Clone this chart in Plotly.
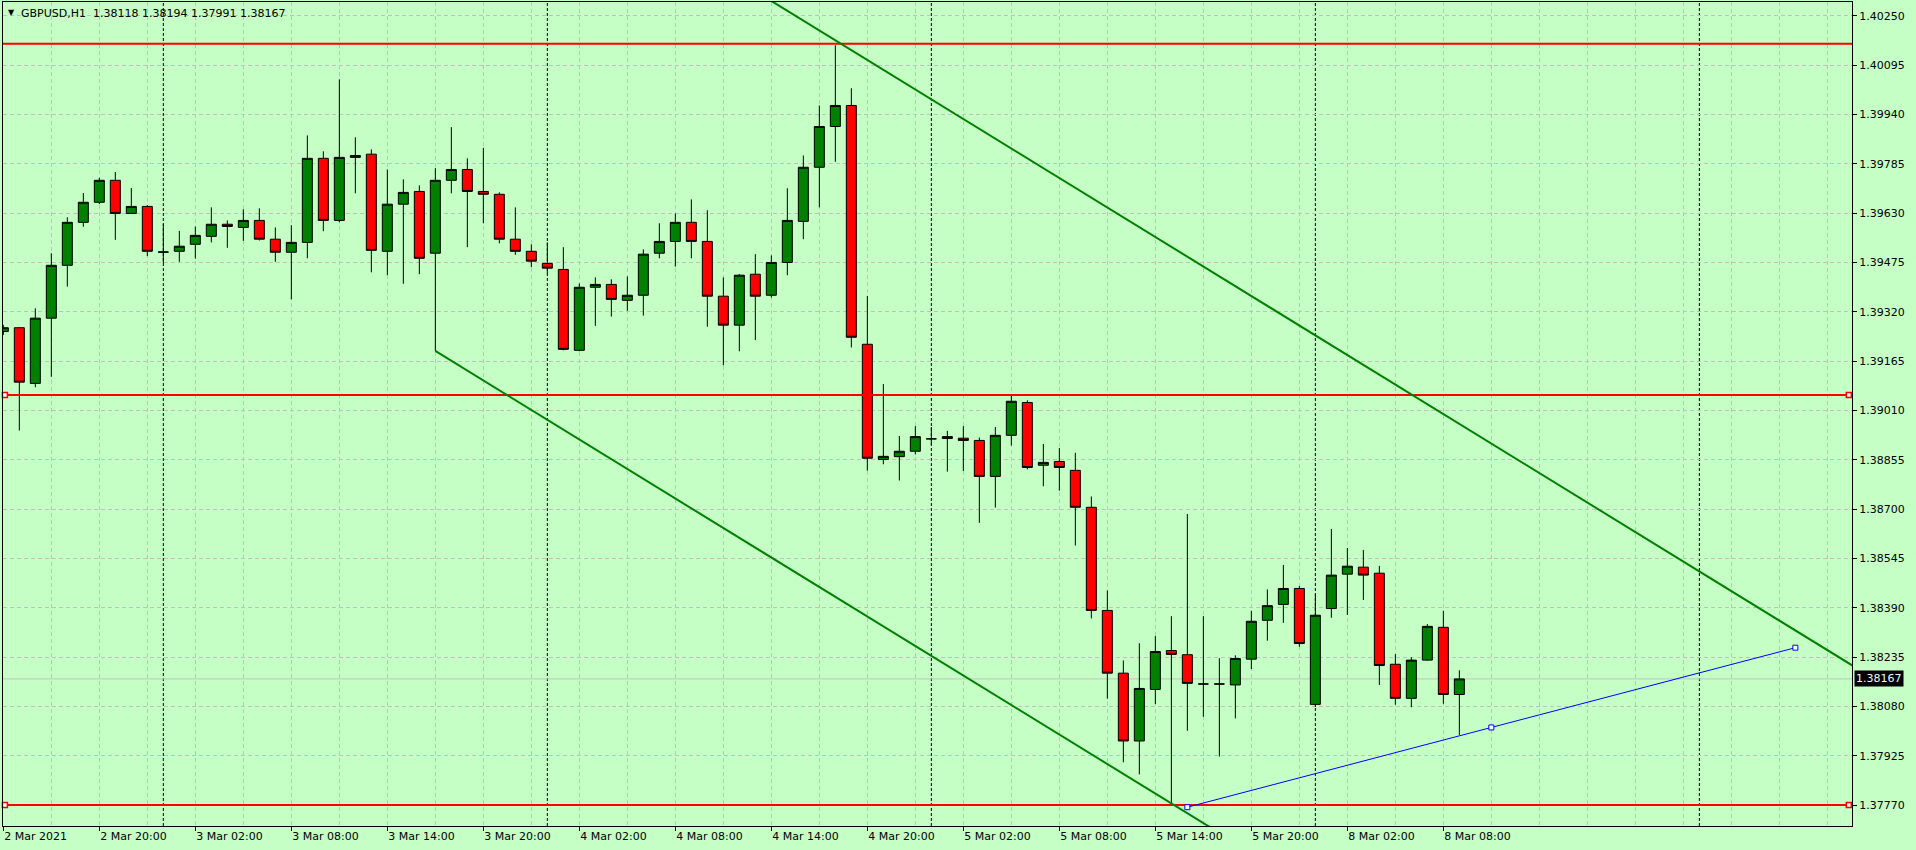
import plotly.graph_objects as go
import pandas as pd

# ---------------- data ----------------
symbol = "GBPUSD,H1"
times = list(pd.date_range("2021-03-02 14:00", "2021-03-05 23:00", freq="h")) + \
        list(pd.date_range("2021-03-08 00:00", "2021-03-08 09:00", freq="h"))

opens = [1.39258, 1.39270, 1.39095, 1.39300, 1.39466, 1.39601, 1.39664, 1.39733, 1.39629, 1.39651,
         1.39507, 1.39510, 1.39532, 1.39557, 1.39595, 1.39585, 1.39607, 1.39548, 1.39507, 1.39538,
         1.39802, 1.39607, 1.39805, 1.39815, 1.39510, 1.39658, 1.39698, 1.39504, 1.39733, 1.39767,
         1.39698, 1.39689, 1.39548, 1.39510, 1.39472, 1.39453, 1.39199, 1.39397, 1.39406, 1.39356,
         1.39372, 1.39504, 1.39541, 1.39601, 1.39541, 1.39369, 1.39278, 1.39438, 1.39372, 1.39475,
         1.39604, 1.39774, 1.39902, 1.39968, 1.39218, 1.38856, 1.38865, 1.38882, 1.38921, 1.38928,
         1.38923, 1.38916, 1.38803, 1.38932, 1.39035, 1.38838, 1.38850, 1.38822, 1.38706, 1.38382,
         1.38185, 1.37972, 1.38134, 1.38256, 1.38243, 1.38151, 1.38151, 1.38148, 1.38229, 1.38351,
         1.38401, 1.38451, 1.38087, 1.38388, 1.38496, 1.38518, 1.38499, 1.38213, 1.38106, 1.38226,
         1.38329, 1.38118]
highs = [1.39279, 1.39272, 1.39331, 1.39504, 1.39617, 1.39693, 1.39741, 1.39759, 1.39709, 1.39655,
         1.39596, 1.39574, 1.39588, 1.39648, 1.39607, 1.39642, 1.39645, 1.39585, 1.39592, 1.39874,
         1.39824, 1.40050, 1.39868, 1.39830, 1.39767, 1.39736, 1.39717, 1.39771, 1.39900, 1.39802,
         1.39835, 1.39695, 1.39648, 1.39532, 1.39538, 1.39523, 1.39409, 1.39428, 1.39422, 1.39431,
         1.39516, 1.39598, 1.39629, 1.39673, 1.39639, 1.39428, 1.39438, 1.39501, 1.39497, 1.39708,
         1.39811, 1.39968, 1.40157, 1.40022, 1.39370, 1.39093, 1.38930, 1.38961, 1.38958, 1.38946,
         1.38961, 1.38925, 1.38958, 1.39057, 1.39042, 1.38905, 1.38892, 1.38877, 1.38740, 1.38445,
         1.38225, 1.38279, 1.38302, 1.38364, 1.38685, 1.38364, 1.38232, 1.38241, 1.38381, 1.38448,
         1.38525, 1.38459, 1.38434, 1.38638, 1.38578, 1.38572, 1.38522, 1.38245, 1.38235, 1.38339,
         1.38381, 1.38194]
lows = [1.39247, 1.38947, 1.39083, 1.39116, 1.39399, 1.39587, 1.39658, 1.39546, 1.39627, 1.39495,
        1.39473, 1.39477, 1.39487, 1.39538, 1.39521, 1.39543, 1.39544, 1.39477, 1.39359, 1.39488,
        1.39573, 1.39601, 1.39692, 1.39444, 1.39435, 1.39408, 1.39438, 1.39197, 1.39692, 1.39523,
        1.39598, 1.39535, 1.39499, 1.39460, 1.39441, 1.39199, 1.39196, 1.39276, 1.39305, 1.39323,
        1.39308, 1.39488, 1.39462, 1.39488, 1.39273, 1.39152, 1.39196, 1.39231, 1.39365, 1.39435,
        1.39548, 1.39648, 1.39791, 1.39208, 1.38821, 1.38841, 1.38790, 1.38872, 1.38902, 1.38818,
        1.38820, 1.38657, 1.38705, 1.38900, 1.38825, 1.38772, 1.38758, 1.38586, 1.38357, 1.38105,
        1.37905, 1.37867, 1.38088, 1.37770, 1.38004, 1.38048, 1.37923, 1.38043, 1.38198, 1.38287,
        1.38343, 1.38268, 1.38079, 1.38359, 1.38368, 1.38415, 1.38148, 1.38086, 1.38078, 1.38224,
        1.38089, 1.37991]
closes = [1.39270, 1.39099, 1.39300, 1.39466, 1.39601, 1.39664, 1.39733, 1.39629, 1.39651, 1.39510,
          1.39508, 1.39526, 1.39560, 1.39595, 1.39588, 1.39607, 1.39548, 1.39507, 1.39538, 1.39802,
          1.39607, 1.39805, 1.39811, 1.39513, 1.39658, 1.39695, 1.39488, 1.39733, 1.39767, 1.39698,
          1.39689, 1.39548, 1.39510, 1.39479, 1.39457, 1.39202, 1.39397, 1.39406, 1.39359, 1.39372,
          1.39501, 1.39541, 1.39601, 1.39541, 1.39369, 1.39278, 1.39435, 1.39369, 1.39475, 1.39607,
          1.39774, 1.39902, 1.39968, 1.39240, 1.38860, 1.38866, 1.38882, 1.38928, 1.38921, 1.38922,
          1.38916, 1.38803, 1.38932, 1.39039, 1.38831, 1.38847, 1.38831, 1.38706, 1.38382, 1.38185,
          1.37972, 1.38137, 1.38253, 1.38244, 1.38153, 1.38151, 1.38151, 1.38231, 1.38348, 1.38397,
          1.38451, 1.38278, 1.38367, 1.38493, 1.38521, 1.38493, 1.38209, 1.38106, 1.38226, 1.38332,
          1.38118, 1.38167]

price_ticks = [1.40250, 1.40095, 1.39940, 1.39785, 1.39630, 1.39475, 1.39320, 1.39165, 1.39010,
               1.38855, 1.38700, 1.38545, 1.38390, 1.38235, 1.38080, 1.37925, 1.37770]
price_tick_text = ["1.40250", "1.40095", "1.39940", "1.39785", "1.39630", "1.39475", "1.39320",
                   "1.39165", "1.39010", "1.38855", "1.38700", "1.38545", "1.38390", "1.38235",
                   "1.38080", "1.37925", "1.37770"]

hlines = [1.40162, 1.39059, 1.37771]
hline_selected = [False, True, True]
channel_x = [27, 73]
channel_lower = [1.39197, 1.37776]
channel_upper = [1.40945, 1.39524]
blue_x = [74, 112]
blue_y = [1.37764, 1.38265]

# ---------------- geometry / style ----------------
W, H = 1916, 850
ML, MR, MT, MB = 3, 64, 2, 24
X_RANGE = [-0.02, 115.54]
Y_RANGE = [1.37705, 1.40293]
BG = "#C6FFC6"
GRID = "#C0C0C0"
FONT = "DejaVu Sans"

n = len(times)
xs = list(range(n))
months = ["", "Jan", "Feb", "Mar", "Apr", "May", "Jun", "Jul", "Aug", "Sep", "Oct", "Nov", "Dec"]

tick_idx = [i for i, t in enumerate(times) if t.hour % 6 == 2]
tick_txt = []
for i in tick_idx:
    t = times[i]
    if i == 0:
        tick_txt.append(f"{t.day} {months[t.month]} {t.year}")
    else:
        tick_txt.append(f"{t.day} {months[t.month]} {t.hour:02d}:00")

# day separators (including the future one)
future = pd.date_range(times[-1] + pd.Timedelta(hours=1), periods=30, freq="h")
all_times = times + list(future)
sep_idx = [i for i, t in enumerate(all_times) if t.hour == 0 and i > 0 and i < X_RANGE[1]]

fig = go.Figure()

shapes = []
for i in sep_idx:
    shapes.append(dict(type="line", xref="x", yref="paper", x0=i, x1=i, y0=0, y1=1,
                       line=dict(color="black", width=1, dash="3px,2px"), layer="below"))
# current price line
shapes.append(dict(type="line", xref="paper", yref="y", x0=0, x1=1, y0=closes[-1], y1=closes[-1],
                   line=dict(color="#C0C0C0", width=1), layer="below"))

fig.add_trace(go.Candlestick(
    x=xs, open=opens, high=highs, low=lows, close=closes,
    increasing=dict(line=dict(color="black", width=1), fillcolor="#008000"),
    decreasing=dict(line=dict(color="black", width=1), fillcolor="#FF0000"),
    whiskerwidth=0, showlegend=False, hoverinfo="skip"))

# horizontal red lines
for lvl, sel in zip(hlines, hline_selected):
    fig.add_trace(go.Scatter(x=[X_RANGE[0], X_RANGE[1]], y=[lvl, lvl], mode="lines",
                             line=dict(color="#FF0000", width=2), showlegend=False, hoverinfo="skip"))
    if sel:
        fig.add_trace(go.Scatter(x=[X_RANGE[0] + 0.12, X_RANGE[1] - 0.2], y=[lvl, lvl], mode="markers",
                                 marker=dict(symbol="square", size=5, color="white",
                                             line=dict(color="#FF0000", width=1.5)),
                                 cliponaxis=False, showlegend=False, hoverinfo="skip"))

# channel lines (rays extended to the right)
slope = (channel_lower[1] - channel_lower[0]) / (channel_x[1] - channel_x[0])
x_end = X_RANGE[1] + 1
for base in (channel_lower, channel_upper):
    fig.add_trace(go.Scatter(x=[channel_x[0], x_end],
                             y=[base[0], base[0] + slope * (x_end - channel_x[0])],
                             mode="lines", line=dict(color="#008000", width=2),
                             showlegend=False, hoverinfo="skip"))

# blue trend line with handles
bx_mid = (blue_x[0] + blue_x[1]) / 2
by_mid = (blue_y[0] + blue_y[1]) / 2
fig.add_trace(go.Scatter(x=blue_x, y=blue_y, mode="lines", line=dict(color="#0000FF", width=1),
                         showlegend=False, hoverinfo="skip"))
fig.add_trace(go.Scatter(x=[blue_x[0], bx_mid, blue_x[1]], y=[blue_y[0], by_mid, blue_y[1]],
                         mode="markers",
                         marker=dict(symbol="square", size=5, color="white",
                                     line=dict(color="#0000FF", width=1)),
                         showlegend=False, hoverinfo="skip"))

annotations = [
    dict(xref="paper", yref="paper", x=0, y=1, xanchor="left", yanchor="top", xshift=3, yshift=-4,
         text="▼", showarrow=False, font=dict(family=FONT, size=8, color="black")),
    dict(xref="paper", yref="paper", x=0, y=1, xanchor="left", yanchor="top", xshift=16, yshift=-3,
         text=f"{symbol}\u00a0\u00a0{opens[-1]:.5f} {highs[-1]:.5f} {lows[-1]:.5f} {closes[-1]:.5f}",
         showarrow=False, font=dict(family=FONT, size=11, color="black")),
    dict(xref="paper", yref="y", x=1, y=closes[-1], xanchor="left", yanchor="middle", xshift=2,
         text=f"{closes[-1]:.5f}", showarrow=False, bgcolor="black", borderpad=1,
         font=dict(family=FONT, size=11, color="#EEF6FF")),
]

fig.update_layout(
    width=W, height=H, margin=dict(l=ML, r=MR, t=MT, b=MB, pad=0),
    paper_bgcolor=BG, plot_bgcolor=BG,
    boxgap=0.375, boxgroupgap=0,
    showlegend=False, shapes=shapes, annotations=annotations,
    font=dict(family=FONT, size=11, color="black"),
    xaxis=dict(range=X_RANGE, type="linear", rangeslider=dict(visible=False),
               tickmode="array", tickvals=tick_idx, ticktext=tick_txt,
               ticklabelposition="outside right",
               ticks="outside", ticklen=4, tickcolor="black", tickwidth=1,
               showgrid=False, zeroline=False,
               showline=True, linecolor="black", linewidth=1, mirror=True,
               tickfont=dict(family=FONT, size=11, color="black"),
               minor=dict(tickmode="array", tickvals=list(range(0, 117, 3)), showgrid=True,
                          gridcolor=GRID, griddash="4px,3px", gridwidth=1, ticks="")),
    yaxis=dict(range=Y_RANGE, side="right", tickmode="array", tickvals=price_ticks,
               ticktext=price_tick_text, ticks="outside", ticklen=4, tickcolor="black",
               showgrid=True, gridcolor=GRID, griddash="4px,3px", gridwidth=1, zeroline=False,
               showline=True, linecolor="black", linewidth=1, mirror=True,
               tickfont=dict(family=FONT, size=11, color="black")),
)

fig.write_html("out.html", include_plotlyjs=True, config={"displayModeBar": False},
               post_script="document.body.style.margin='0';document.body.style.overflow='hidden';")
